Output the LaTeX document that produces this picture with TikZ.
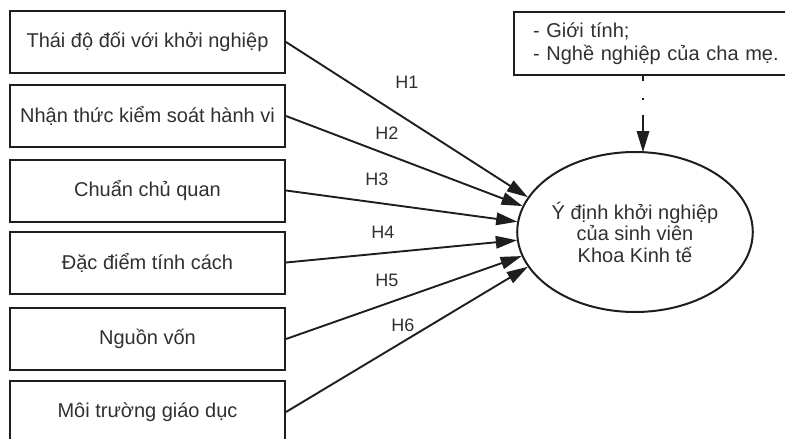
\documentclass[tikz,border=0pt]{standalone}
\usepackage{fontspec}
\setmainfont{Liberation Sans}
\usetikzlibrary{calc,shapes.geometric}
\definecolor{ink}{HTML}{1E1E1E}
\definecolor{txt}{HTML}{303030}
\newcommand\hyparrow[2]{%
  \draw[conn,shorten >=12pt] (#1) -- (#2);
  \fill[ink] (#2) -- ($(#2)!21pt!(#1)!6.5pt!90:(#2)$) -- ($(#2)!21pt!(#1)!6.5pt!-90:(#2)$) -- cycle;}
\begin{document}
\begin{tikzpicture}[x=1pt,y=1pt,
  factor/.style={draw=ink,line width=2pt,minimum width=275pt,minimum height=62pt,inner sep=0pt,
    text=txt,font=\fontsize{20}{22}\selectfont},
  conn/.style={draw=ink,line width=1.9pt},
  lbl/.style={text=txt,font=\fontsize{18}{20}\selectfont,inner sep=0pt}]
\useasboundingbox (0,-439) rectangle (785,0);
\node[factor] (b1) at (147.5,-42) {Thái độ đối với khởi nghiệp};
\node[factor] (b2) at (147.5,-116) {Nhận thức kiểm soát hành vi};
\node[factor] (b3) at (147.5,-190.5) {Chuẩn chủ quan};
\node[factor] (b4) at (147.5,-262.5) {Đặc điểm tính cách};
\node[factor] (b5) at (147.5,-339) {Nguồn vốn};
\node[factor] (b6) at (147.5,-412) {Môi trường giáo dục};
\node[draw=ink,line width=2pt,ellipse,minimum width=224pt,minimum height=160pt,inner sep=0pt,
  text=txt,align=center,font=\fontsize{20}{21.5}\selectfont] (e) at (635,-232)
  {Ý định khởi nghiệp\\của sinh viên\\Khoa Kinh tế};
\node[draw=ink,line width=2pt,anchor=north west,minimum width=285pt,minimum height=63pt,
  inner xsep=19pt,inner ysep=0pt,text width=247pt,align=left,text=txt,
  font=\fontsize{20}{23}\selectfont] (c) at (513,-11)
  {- Giới tính;\\- Nghề nghiệp của cha mẹ.};
\coordinate (ctop) at (643,-74);
\coordinate (cmid) at (643,-115);
\coordinate (etop) at (643,-152);
\hyparrow{b1.east}{e.162.4}
\hyparrow{b2.east}{e.167.9}
\hyparrow{b3.east}{e.175.5}
\hyparrow{b4.east}{e.184}
\hyparrow{b5.east}{e.192.4}
\hyparrow{b6.east}{e.198.1}
\draw[conn,dash pattern=on 7pt off 17pt on 2pt off 15pt] (ctop) -- (cmid);
\hyparrow{cmid}{etop}
\node[lbl] (h1) at (407,-82) {H1};
\node[lbl] (h2) at (387,-133) {H2};
\node[lbl] (h3) at (377,-179) {H3};
\node[lbl] (h4) at (383,-232) {H4};
\node[lbl] (h5) at (387,-280) {H5};
\node[lbl] (h6) at (403,-325) {H6};
\end{tikzpicture}
\end{document}
